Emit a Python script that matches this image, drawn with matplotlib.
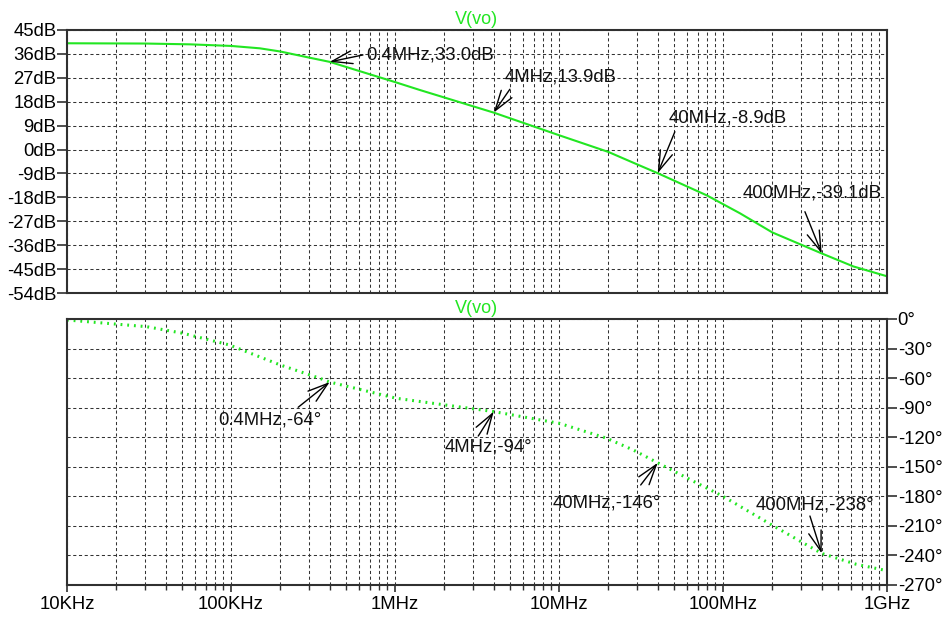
import matplotlib
matplotlib.use("Agg")
import matplotlib.pyplot as plt
from matplotlib.ticker import FixedLocator, LogLocator, NullFormatter

plt.rcParams['font.family'] = ['Liberation Sans', 'DejaVu Sans']
plt.rcParams['font.size'] = 13.3

# magnitude trace (Hz, dB)
mag_freq = [1e4, 3e4, 5.6e4, 1e5, 1.5e5, 2e5, 3e5, 4e5, 1e6, 1.42e6, 4e6, 1e7,
            2e7, 3e7, 4e7, 8e7, 1.27e8, 2e8, 4e8, 6.24e8, 1e9]
mag_db = [40.0, 39.9, 39.6, 39.0, 38.1, 36.9, 34.6, 33.0, 25.4, 22.4, 13.9, 5.4,
          -0.9, -5.6, -8.9, -17.3, -24.0, -31.2, -39.1, -44.0, -47.7]

# phase trace (Hz, degrees)
ph_freq = [1e4, 3.06e4, 5.1e4, 9.8e4, 2e5, 3.48e5, 4e5, 1.02e6, 4e6, 1.01e7,
           1.95e7, 2.84e7, 4e7, 6.3e7, 1e8, 1.98e8, 4e8, 6.5e8, 1e9]
ph_deg = [-1.0, -7.8, -14.5, -26.4, -46.7, -60.2, -64.0, -80.5, -94.0, -106.0,
          -121.0, -133.0, -146.0, -163.0, -180.0, -209.0, -238.0, -249.0, -255.5]

x_ticks = [1e4, 1e5, 1e6, 1e7, 1e8, 1e9]
x_labels = ['10KHz', '100KHz', '1MHz', '10MHz', '100MHz', '1GHz']
db_ticks = list(range(-54, 46, 9))
deg_ticks = list(range(-270, 1, 30))

# cursor marks: (label, point, arrow tail, text position)
mag_notes = [
    ('0.4MHz,33.0dB', (4e5, 33.0), (6.38e5, 35.6), (6.71e5, 35.6)),
    ('4MHz,13.9dB', (4e6, 13.9), (5.02e6, 22.7), (4.69e6, 27.3)),
    ('40MHz,-8.9dB', (4e7, -8.9), (5.09e7, 6.7), (4.69e7, 11.8)),
    ('400MHz,-39.1dB', (4e8, -39.1), (3.16e8, -23.4), (1.32e8, -16.4)),
]
ph_notes = [
    ('0.4MHz,-64°', (4e5, -64), (2.57e5, -89.6), (8.38e4, -102.2)),
    ('4MHz,-94°', (4e6, -94), (3.22e6, -118.8), (2.02e6, -129.6)),
    ('40MHz,-146°', (4e7, -146), (3.15e7, -168.5), (9.16e6, -187.1)),
    ('400MHz,-238°', (4e8, -238), (3.39e8, -200.0), (1.59e8, -188.8)),
]

green = '#22e622'
edge = '#303030'
gridc = '#333333'

fig = plt.figure(figsize=(9.43, 6.17), dpi=100)
ax1 = fig.add_axes([0.0710, 0.5251, 0.8696, 0.4263])
ax2 = fig.add_axes([0.0710, 0.0519, 0.8696, 0.4311])


def style(ax):
    ax.set_xscale('log')
    ax.set_xlim(1e4, 1e9)
    ax.xaxis.set_major_locator(FixedLocator(x_ticks))
    ax.xaxis.set_minor_locator(LogLocator(base=10, subs=range(2, 10), numticks=20))
    ax.xaxis.set_minor_formatter(NullFormatter())
    ax.grid(True, which='both', axis='x', color=gridc, lw=0.75, ls=(0, (3, 2.5)))
    ax.grid(True, which='major', axis='y', color=gridc, lw=0.75, ls=(0, (3, 2.5)))
    for s in ax.spines.values():
        s.set_color(edge)
        s.set_linewidth(1.5)
    ax.set_title('V(vo)', color=green, fontsize=13, pad=4)


style(ax1)
style(ax2)

# magnitude
ax1.plot(mag_freq, mag_db, color=green, lw=1.5)
ax1.set_ylim(-54, 45)
ax1.set_yticks(db_ticks)
ax1.set_yticklabels(['%ddB' % v for v in db_ticks])
ax1.tick_params(axis='y', direction='out', length=7.2, width=1.2, pad=0.5, color=edge)
ax1.tick_params(axis='x', which='both', length=0, labelbottom=False)

# phase
ax2.plot(ph_freq, ph_deg, color=green, lw=2.2, ls=(0, (0.6, 1.6)))
ax2.set_ylim(-270, 0)
ax2.yaxis.tick_right()
ax2.set_yticks(deg_ticks)
ax2.set_yticklabels(['%d°' % v for v in deg_ticks])
ax2.tick_params(axis='y', direction='out', length=7.2, width=1.2, pad=0.5, color=edge)
ax2.set_xticklabels(x_labels)
ax2.tick_params(axis='x', which='major', direction='out', length=5, width=1.2, pad=3, color=edge)
ax2.tick_params(axis='x', which='minor', direction='out', length=3.5, width=1.0, color=edge)

for ax, notes in ((ax1, mag_notes), (ax2, ph_notes)):
    for label, pt, tail, txt in notes:
        ax.annotate('', xy=pt, xytext=tail,
                    arrowprops=dict(arrowstyle='->,head_length=1.1,head_width=0.35',
                                    color='black', lw=1.0, shrinkA=0, shrinkB=0))
        ax.text(txt[0], txt[1], label, ha='left', va='center', fontsize=13.3,
                color='#111111')

fig.savefig('out.png', dpi=100)
